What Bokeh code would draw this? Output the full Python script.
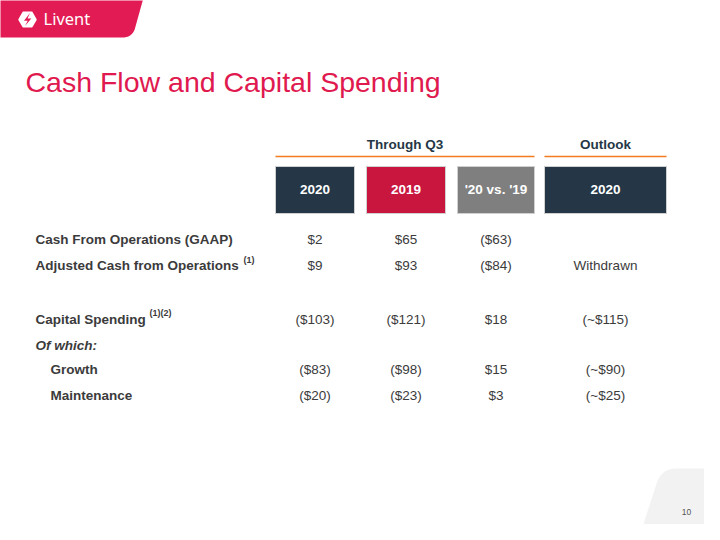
from bokeh.plotting import figure
from bokeh.models import Range1d
from bokeh.embed import file_html
from bokeh.resources import INLINE
from bokeh.core.properties import value
import math

# ---------------- data ----------------
brand = "Livent"
title = "Cash Flow and Capital Spending"
group_labels = ["Through Q3", "Outlook"]
column_labels = ["2020", "2019", "'20 vs. '19", "2020"]
row_labels = ["Cash From Operations (GAAP)", "Adjusted Cash from Operations",
              "Capital Spending", "Of which:", "Growth", "Maintenance"]
row_notes = ["", "(1)", "(1)(2)", "", "", ""]
vals_2020 = ["$2", "$9", "($103)", "", "($83)", "($20)"]
vals_2019 = ["$65", "$93", "($121)", "", "($98)", "($23)"]
vals_diff = ["($63)", "($84)", "$18", "", "$15", "$3"]
vals_outlook = ["", "Withdrawn", "(~$115)", "", "(~$90)", "(~$25)"]
page_number = "10"

# ---------------- layout / style ----------------
FONT = "Liberation Sans, Arial, sans-serif"
CRIMSON = "#E31B54"
TITLE_RED = "#E0194F"
NAVY = "#253746"
RED_BOX = "#C9163F"
GRAY_BOX = "#7F7F7F"
ORANGE = "#F47B20"
TEXT = "#3B3B3B"
BODY = "13.5px"

row_base = [239, 265, 319, 345, 369, 395]
row_indent = [35, 35, 35, 35, 50, 50]
row_style = ["bold", "bold", "bold", "bold italic", "bold", "bold"]
note_x = [0, 243, 149, 0, 0, 0]
note_y = [0, 259, 312, 0, 0, 0]
box_l = [275, 366, 457, 544]
box_r = [354, 445, 534, 666]
box_colors = [NAVY, RED_BOX, GRAY_BOX, NAVY]
box_top, box_bot = 166, 213
groups_l = [275, 544]
groups_r = [534, 666]


def rounded(pts, radii, n=10):
    xs, ys = [], []
    m = len(pts)
    for i in range(m):
        p0, p1, p2 = pts[i - 1], pts[i], pts[(i + 1) % m]
        r = radii[i]
        if r <= 0:
            xs.append(p1[0]); ys.append(p1[1]); continue
        v1 = (p0[0] - p1[0], p0[1] - p1[1]); l1 = math.hypot(*v1)
        v2 = (p2[0] - p1[0], p2[1] - p1[1]); l2 = math.hypot(*v2)
        a = (p1[0] + v1[0] / l1 * r, p1[1] + v1[1] / l1 * r)
        b = (p1[0] + v2[0] / l2 * r, p1[1] + v2[1] / l2 * r)
        for k in range(n + 1):
            t = k / n
            x = (1 - t) ** 2 * a[0] + 2 * (1 - t) * t * p1[0] + t ** 2 * b[0]
            y = (1 - t) ** 2 * a[1] + 2 * (1 - t) * t * p1[1] + t ** 2 * b[1]
            xs.append(x); ys.append(y)
    return xs, ys


p = figure(width=704, height=524, x_range=Range1d(0, 704), y_range=Range1d(524, 0),
           output_backend="svg", toolbar_location=None, min_border=0,
           x_axis_type=None, y_axis_type=None)
p.grid.visible = False
p.outline_line_color = None
p.background_fill_color = "white"
p.border_fill_color = "white"

# header banner
bx, by = rounded([(-10, -10), (145, -10), (132, 37), (-10, 37)], [0, 0, 10, 0])
p.patch(bx, by, fill_color=CRIMSON, line_color=None)
# logo icon
p.scatter([27], [19], marker="hex", size=17, fill_color="white", line_color="white", line_width=1.5)
p.patch([29.5, 23.5, 27.2, 24.5, 30.8, 27.0, 29.5], [12.5, 20.3, 20.3, 25.5, 18.0, 18.0, 12.5],
        fill_color=CRIMSON, line_color=None)
p.text([43], [18], text=[brand], text_font=value("Noto Sans"), text_font_size="16.5px",
       text_color="white", text_align="left", text_baseline="alphabetic")

# footer shape
fx, fy = rounded([(636, 545), (661, 468), (730, 468), (730, 545)], [0, 15, 0, 0])
p.patch(fx, fy, fill_color="#F2F2F2", line_color=None)
p.text([686], [511], text=[page_number], text_font=value(FONT), text_font_size="8.5px",
       text_color="#555555", text_align="center", text_baseline="alphabetic")

# title
p.text([25], [81], text=[title], text_font=value(FONT), text_font_size="28.5px",
       text_color=TITLE_RED, text_align="left", text_baseline="alphabetic")

# group headers
gcx = [(a + b) / 2 for a, b in zip(groups_l, groups_r)]
p.text(gcx, [144] * len(gcx), text=group_labels, text_font=value(FONT), text_font_size=BODY,
       text_font_style="bold", text_color=NAVY, text_align="center", text_baseline="alphabetic")
p.segment(x0=groups_l, x1=groups_r, y0=[156] * 2, y1=[156] * 2, line_color=ORANGE, line_width=1.5)

# column boxes
p.quad(left=box_l, right=box_r, top=[box_top] * 4, bottom=[box_bot] * 4,
       fill_color=box_colors, line_color="#D0D0D0", line_width=1)
ccx = [(a + b) / 2 for a, b in zip(box_l, box_r)]
p.text(ccx, [189] * 4, text=column_labels, text_font=value(FONT), text_font_size=BODY,
       text_font_style="bold", text_color="white", text_align="center", text_baseline="alphabetic")

# row labels
for lab, x, y, st in zip(row_labels, row_indent, row_base, row_style):
    p.text([x], [y], text=[lab], text_font=value(FONT), text_font_size=BODY,
           text_font_style=st, text_color=TEXT, text_align="left", text_baseline="alphabetic")
for nt, x, y in zip(row_notes, note_x, note_y):
    if nt:
        p.text([x], [y], text=[nt], text_font=value(FONT), text_font_size="9px",
               text_font_style="bold", text_color=TEXT, text_align="left", text_baseline="alphabetic")

# values
for cx, col in zip(ccx, [vals_2020, vals_2019, vals_diff, vals_outlook]):
    p.text([cx] * len(col), row_base, text=col, text_font=value(FONT), text_font_size=BODY,
           text_color=TEXT, text_align="center", text_baseline="alphabetic")

open("out.html", "w").write(file_html(p, INLINE))
